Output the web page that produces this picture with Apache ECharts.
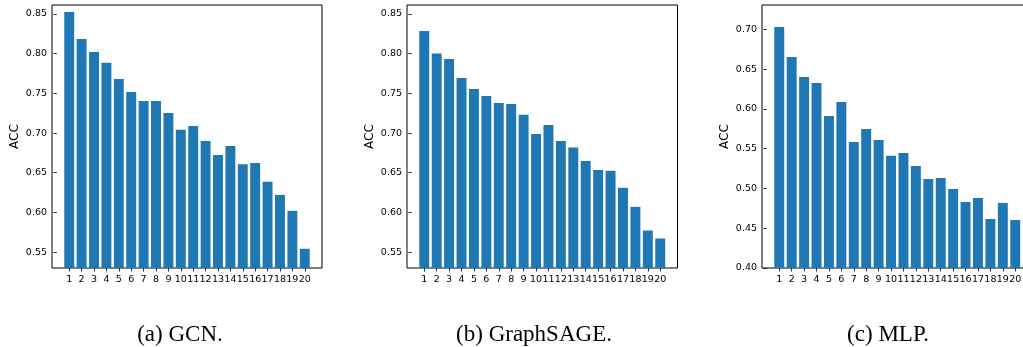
<!DOCTYPE html>
<html>
<head>
<meta charset="utf-8">
<script src="https://cdn.jsdelivr.net/npm/echarts@6/dist/echarts.min.js"></script>
<style>html,body{margin:0;padding:0;background:#fff;overflow:hidden;width:1023px;height:347px}#c{width:1045px;height:347px}</style>
</head>
<body>
<div id="c"></div>
<script>
const categories = [1,2,3,4,5,6,7,8,9,10,11,12,13,14,15,16,17,18,19,20];
const gcnAcc = [0.8525,0.8185,0.8022,0.7887,0.7682,0.7516,0.7405,0.7405,0.7254,0.7040,0.7089,0.6901,0.6725,0.6838,0.6607,0.6624,0.6385,0.6221,0.6020,0.5542];
const sageAcc = [0.8286,0.8001,0.7934,0.7694,0.7556,0.7468,0.7380,0.7367,0.7229,0.6989,0.7102,0.6901,0.6817,0.6649,0.6536,0.6524,0.6310,0.6070,0.5772,0.5672];
const mlpAcc = [0.7029,0.6652,0.6401,0.6326,0.5911,0.6087,0.5584,0.5747,0.5609,0.5412,0.5446,0.5282,0.5119,0.5131,0.4993,0.4830,0.4880,0.4616,0.4818,0.4603];
const yTicksA = [0.55,0.60,0.65,0.70,0.75,0.80,0.85];
const yTicksC = [0.40,0.45,0.50,0.55,0.60,0.65,0.70];
const captions = ['(a) GCN.', '(b) GraphSAGE.', '(c) MLP.'];
const yLabel = 'ACC';

const panels = [
  {left: 52, width: 270, ymin: 0.53, ymax: 0.8613, ticks: yTicksA, data: gcnAcc, cap: 180},
  {left: 407, width: 270.5, ymin: 0.53, ymax: 0.8613, ticks: yTicksA, data: sageAcc, cap: 534},
  {left: 762, width: 270.5, ymin: 0.40, ymax: 0.7306, ticks: yTicksC, data: mlpAcc, cap: 888}
];

const grid = [], xAxis = [], yAxis = [], series = [], graphic = [];
panels.forEach((p, i) => {
  grid.push({left: p.left, width: p.width, top: 5, height: 263, show: true, borderColor: '#000', borderWidth: 1, backgroundColor: 'transparent'});
  xAxis.push({
    type: 'value', gridIndex: i, min: -0.39, max: 21.39,
    axisLine: {show: false},
    splitLine: {show: false},
    axisTick: {show: true, inside: false, length: 3.5, lineStyle: {color: '#000', width: 0.8}, customValues: categories},
    axisLabel: {show: true, margin: 7, color: '#000', fontFamily: 'DejaVu Sans', fontSize: 9.5, customValues: categories, formatter: v => String(v)}
  });
  yAxis.push({
    type: 'value', gridIndex: i, min: p.ymin, max: p.ymax,
    name: yLabel, nameLocation: 'middle', nameRotate: 90, nameGap: 31,
    nameTextStyle: {fontFamily: 'DejaVu Sans', fontSize: 12, color: '#000'},
    axisLine: {show: false},
    splitLine: {show: false},
    axisTick: {show: true, inside: false, length: 3.5, lineStyle: {color: '#000', width: 0.8}, customValues: p.ticks},
    axisLabel: {show: true, margin: 5, color: '#000', fontFamily: 'DejaVu Sans', fontSize: 9.5, customValues: p.ticks, formatter: v => v.toFixed(2)}
  });
  series.push({
    type: 'bar', xAxisIndex: i, yAxisIndex: i, clip: true,
    barWidth: '80%',
    itemStyle: {color: '#1f77b4'},
    data: categories.map((c, k) => [c, p.data[k]])
  });
  graphic.push({
    type: 'text', x: p.cap, y: 335,
    style: {text: captions[i], fill: '#000', font: '23px "Liberation Serif"', textAlign: 'center', textVerticalAlign: 'middle'}
  });
});

const chart = echarts.init(document.getElementById('c'), null, {renderer: 'canvas'});
chart.setOption({animation: false, grid, xAxis, yAxis, series, graphic});
</script>
</body>
</html>
